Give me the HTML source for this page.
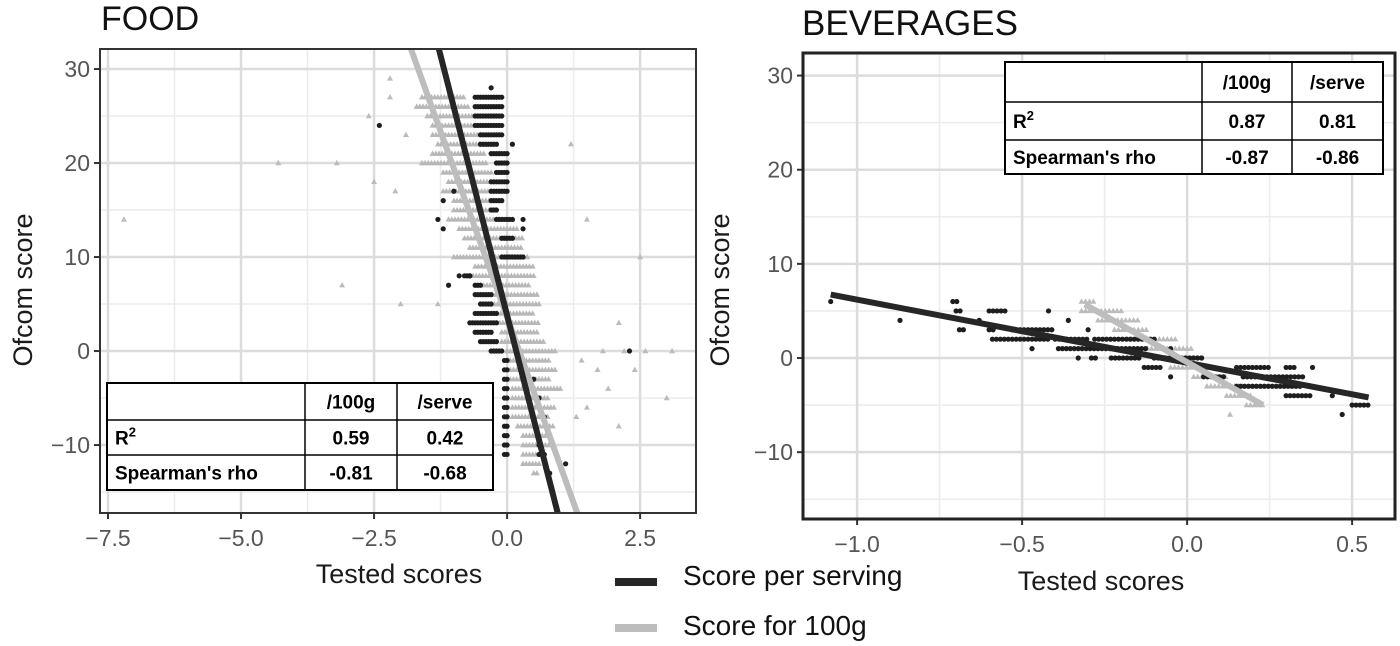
<!DOCTYPE html>
<html><head><meta charset="utf-8">
<style>
html,body{margin:0;background:#fff;overflow:hidden;width:1400px;height:646px;}
svg{display:block;font-family:"Liberation Sans",sans-serif;overflow:hidden;}
.tick{fill:#555;font-size:23px;}
.ttl{fill:#1a1a1a;font-size:27px;}
.tb{font-family:"Liberation Sans",sans-serif;font-weight:bold;font-size:19px;fill:#000;}
</style></head><body>
<svg id="chart" width="1400" height="646" viewBox="0 0 1400 646">
<text x="101" y="30" font-size="34" fill="#111">FOOD</text>
<text x="802" y="35" font-size="35" fill="#111">BEVERAGES</text>
<g id="food"></g>
<g id="bev"></g>
<text class="ttl" x="399" y="583" text-anchor="middle">Tested scores</text>
<text class="ttl" x="1101" y="590" text-anchor="middle">Tested scores</text>
<text class="ttl" transform="translate(32,290) rotate(-90)" text-anchor="middle">Ofcom score</text>
<text class="ttl" transform="translate(729,290) rotate(-90)" text-anchor="middle">Ofcom score</text>
<g>
<line x1="615" y1="582" x2="657" y2="582" stroke="#262626" stroke-width="8"/>
<text x="683" y="585" font-size="28" fill="#111">Score per serving</text>
<line x1="615" y1="628" x2="657" y2="628" stroke="#bdbdbd" stroke-width="8"/>
<text x="683" y="635" font-size="28" fill="#111">Score for 100g</text>
</g>
</svg>
<script>
const NS="http://www.w3.org/2000/svg";
// ---- FOOD data ----
const foodXTicks=[-7.5,-5.0,-2.5,0.0,2.5];
const foodYTicks=[30,20,10,0,-10];
const food100Rows=[[27,-1.6,-0.8],[26,-1.7,-0.7],[25,-1.5,-0.6],[24,-1.4,-0.6],[23,-1.4,-0.5],[22,-1.3,-0.5],[21,-1.4,-0.4],[20,-1.6,-0.4],[19,-1.2,-0.3],[18,-1.1,-0.3],[17,-1.2,-0.3],[16,-1.0,-0.1],[15,-1.0,-0.2],[14,-1.1,0.1],[13,-0.9,0.2],[12,-0.8,0.3],[11,-0.7,0.3],[10,-1.0,0.4],[9,-0.6,0.5],[8,-0.7,0.5],[7,-0.5,0.4],[6,-0.4,0.6],[5,-0.3,0.6],[4,-0.3,0.5],[3,-0.2,0.6],[2,-0.1,0.6],[1,-0.1,0.7],[0,0,0.9],[-1,0,0.8],[-2,0,0.9],[-3,0,0.8],[-4,0.1,1.0],[-5,0.1,0.8],[-6,0.1,0.9],[-7,0.1,0.8],[-8,0.2,0.9],[-9,0.3,0.8],[-10,0.3,0.8],[-11,0.3,0.7],[-12,0.3,0.6],[-13,0.5,0.6]];
const food100Out=[[-7.2,14],[-4.3,20],[-3.2,20],[-3.1,7],[-2.6,25],[-2.5,18],[-2.2,29],[-2.2,27],[-2.1,17],[-2.0,5],[-1.9,23],[-1.3,5],[1.2,22],[1.5,14],[2.5,10],[2.1,3],[1.8,0],[2.2,0],[2.6,0],[3.1,0],[1.4,-1],[1.7,-2],[2.4,-2],[1.9,-4],[3.0,-5],[1.5,-6],[2.1,-8],[1.3,-7]];
const foodServeRows=[[28,-0.3,-0.3],[27,-0.6,-0.1],[26,-0.6,-0.1],[25,-0.6,-0.1],[24,-0.6,-0.1],[23,-0.5,-0.1],[22,-0.5,-0.2],[21,-0.3,0],[20,-0.2,0],[19,-0.2,0],[18,-0.3,0],[17,-0.3,0],[16,-0.3,-0.1],[15,-0.3,-0.2],[14,-0.2,0.1],[12,-0.1,0.1],[10,-0.1,0.3],[8,-0.8,-0.7],[7,-0.6,-0.5],[6,-0.6,-0.3],[5,-0.5,-0.3],[4,-0.6,-0.2],[3,-0.7,-0.2],[2,-0.6,-0.3],[1,-0.5,-0.2],[0,-0.3,-0.1],[-1,-0.05,0],[-2,-0.05,0],[-3,-0.05,0],[-4,-0.05,0],[-5,-0.05,0],[-6,-0.05,0],[-7,-0.05,0],[-8,-0.05,0],[-9,-0.05,0],[-10,-0.05,0],[-11,-0.05,0]];
const foodServeOut=[[-2.4,24],[-1.3,24],[-1.0,17],[-1.2,16],[-1.3,14],[-1.2,13],[-0.9,8],[-1.1,7],[-0.7,8],[0.1,22],[0.3,14],[0.3,13],[2.3,0],[0.5,-3],[0.6,-5],[0.7,-7],[0.8,-9],[0.6,-10],[0.7,-11],[1.1,-12],[0.8,-13],[0.6,-11]];
const foodServeFit=[-22.1,3.8]; // slope, intercept
const food100Fit=[-15.8,3.6];
// ---- BEVERAGE data ----
const bevXTicks=[-1.0,-0.5,0.0,0.5];
const bevYTicks=[30,20,10,0,-10];
const bevServeRows=[[6,-1.08,-1.08],[6,-0.71,-0.69],[5,-0.7,-0.68],[5,-0.6,-0.55],[5,-0.42,-0.42],[4,-0.87,-0.87],[4,-0.63,-0.63],[4,-0.36,-0.36],[3,-0.69,-0.67],[3,-0.6,-0.58],[3,-0.53,-0.41],[3,-0.3,-0.3],[2,-0.59,-0.42],[2,-0.4,-0.3],[2,-0.28,-0.1],[1,-0.47,-0.47],[1,-0.39,-0.34],[1,-0.33,-0.12],[1,-0.05,-0.05],[0,-0.33,-0.33],[0,-0.29,-0.27],[0,-0.23,-0.14],[0,-0.1,0.05],[-1,-0.13,-0.08],[-1,0.05,0.05],[-1,0.15,0.25],[-1,0.3,0.33],[-1,0.38,0.38],[-2,-0.05,-0.05],[-2,0.05,0.12],[-2,0.17,0.35],[-3,0.15,0.35],[-4,0.3,0.38],[-4,0.44,0.44],[-5,0.5,0.55],[-6,0.47,0.47]];
const bev100Rows=[[6,-0.32,-0.28],[5,-0.32,-0.2],[4,-0.27,-0.15],[3,-0.22,-0.12],[2,-0.18,-0.03],[1,-0.12,0.02],[0,-0.08,0.05],[-1,-0.05,0.08],[-2,0.02,0.12],[-3,0.06,0.17],[-4,0.12,0.2],[-5,0.18,0.23],[-6,0.13,0.13]];
const bevServeFit=[-6.7,-0.5,-1.08,0.55]; // slope, intercept, xmin, xmax
const bev100Fit=[-19.8,-0.44,-0.31,0.23];

function el(tag,attrs,parent){const e=document.createElementNS(NS,tag);for(const k in attrs)e.setAttribute(k,attrs[k]);parent.appendChild(e);return e;}

function panel(g,P,xt,yt){
  const sx=v=>P.x0+(v-P.xd[0])/(P.xd[1]-P.xd[0])*(P.x1-P.x0);
  const sy=v=>P.y1-(v-P.yd[0])/(P.yd[1]-P.yd[0])*(P.y1-P.y0);
  el('rect',{x:P.x0,y:P.y0,width:P.x1-P.x0,height:P.y1-P.y0,fill:'#fff'},g);
  const step=xt[1]-xt[0];
  for(let i=-1;i<xt.length;i++){const v=xt[0]+(i+0.5)*step;if(v>P.xd[0]&&v<P.xd[1])el('line',{x1:sx(v),x2:sx(v),y1:P.y0,y2:P.y1,stroke:'#ececec','stroke-width':1.5},g);}
  for(let v=-15;v<=35;v+=10){if(v>P.yd[0]&&v<P.yd[1])el('line',{x1:P.x0,x2:P.x1,y1:sy(v),y2:sy(v),stroke:'#ececec','stroke-width':1.5},g);}
  xt.forEach(v=>{const l=el('line',{x1:sx(v),x2:sx(v),y1:P.y0,y2:P.y1,stroke:'#dcdcdc','stroke-width':2.5},g);
    
    el('line',{x1:sx(v),x2:sx(v),y1:P.y1,y2:P.y1+6,stroke:'#333','stroke-width':2},g);
    const t=el('text',{x:sx(v),y:P.y1+33,'text-anchor':'middle',class:'tick'},g);t.textContent=(v<0?'\u2212':'')+Math.abs(v).toFixed(1);
    });
  yt.forEach(v=>{const l=el('line',{x1:P.x0,x2:P.x1,y1:sy(v),y2:sy(v),stroke:'#dcdcdc','stroke-width':2.5},g);
    
    el('line',{x1:P.x0-6,x2:P.x0,y1:sy(v),y2:sy(v),stroke:'#333','stroke-width':2},g);
    const t=el('text',{x:P.x0-10,y:sy(v)+8,'text-anchor':'end',class:'tick'},g);t.textContent=(v<0?'\u2212':'')+Math.abs(v);
    });
  return [sx,sy];
}
function tri(g,x,y,c){const p=el('polygon',{points:`${x},${y-3.2} ${x-3},${y+2.2} ${x+3},${y+2.2}`,fill:c},g);
  }
function dot(g,x,y){const c=el('circle',{cx:x,cy:y,r:2.6,fill:'#1e1e1e'},g);
  }
function rows(g,R,sx,sy,step,f){R.forEach(r=>{for(let x=r[1];x<=r[2]+1e-9;x+=step)f(g,sx(x),sy(r[0]));});}
function clipRect(id,P){const d=el('defs',{},document.getElementById('chart'));const c=el('clipPath',{id:id},d);el('rect',{x:P.x0,y:P.y0,width:P.x1-P.x0,height:P.y1-P.y0},c);}
function fitLine(g,fit,x0,x1,sx,sy,c,name){const l=el('line',{x1:sx(x0),y1:sy(fit[0]*x0+fit[1]),x2:sx(x1),y2:sy(fit[0]*x1+fit[1]),stroke:c,'stroke-width':6},g);
  }

// FOOD panel
const FP={x0:100,x1:696,y0:49,y1:513,xd:[-7.65,3.55],yd:[-17.23,32.13]};
const fg=document.getElementById('food');
let [fx,fy]=panel(fg,FP,foodXTicks,foodYTicks);
clipRect('fc',FP);
const fm=el('g',{'clip-path':'url(#fc)'},fg);
rows(fm,food100Rows,fx,fy,0.06,(g,x,y)=>tri(g,x,y,'#b8b8b8'));
food100Out.forEach(p=>tri(fm,fx(p[0]),fy(p[1]),'#bcbcbc'));
rows(fm,foodServeRows,fx,fy,0.05,dot);
foodServeOut.forEach(p=>dot(fm,fx(p[0]),fy(p[1])));
fitLine(fm,food100Fit,-3,2,fx,fy,'#bdbdbd','fit-line-100g');
fitLine(fm,foodServeFit,-3,2,fx,fy,'#262626','fit-line-serving');
el('rect',{x:FP.x0,y:FP.y0,width:FP.x1-FP.x0,height:FP.y1-FP.y0,fill:'none',stroke:'#333','stroke-width':2},fg);

// BEV panel
const BP={x0:803,x1:1395,y0:53,y1:519,xd:[-1.164,0.63],yd:[-17.1,32.4]};
const bg=document.getElementById('bev');
let [bx,by]=panel(bg,BP,bevXTicks,bevYTicks);
rows(bg,bev100Rows,bx,by,0.012,(g,x,y)=>tri(g,x,y,'#bcbcbc'));
rows(bg,bevServeRows,bx,by,0.012,dot);
fitLine(bg,bevServeFit,bevServeFit[2],bevServeFit[3],bx,by,'#262626','fit-line-serving');
fitLine(bg,bev100Fit,bev100Fit[2],bev100Fit[3],bx,by,'#bdbdbd','fit-line-100g');
el('rect',{x:BP.x0,y:BP.y0,width:BP.x1-BP.x0,height:BP.y1-BP.y0,fill:'none',stroke:'#222','stroke-width':3},bg);

// tables
function table(x,y,cw,rh,vals,name){
  const g=el('g',{},document.getElementById('chart'));
  
  const W=cw.reduce((a,b)=>a+b,0),H=rh.reduce((a,b)=>a+b,0);
  el('rect',{x:x,y:y,width:W,height:H,fill:'#fff',stroke:'#000','stroke-width':2},g);
  let cx=x;cw.slice(0,-1).forEach(w=>{cx+=w;el('line',{x1:cx,x2:cx,y1:y,y2:y+H,stroke:'#000','stroke-width':1.5},g);});
  let cy=y;rh.slice(0,-1).forEach(h=>{cy+=h;el('line',{x1:x,x2:x+W,y1:cy,y2:cy,stroke:'#000','stroke-width':1.5},g);});
  cy=y;
  vals.forEach((row,ri)=>{cx=x;row.forEach((v,ci)=>{
    if(v!==''){const t=el('text',{class:'tb',x:ci==0?cx+8:cx+cw[ci]/2,y:cy+rh[ri]/2+7,'text-anchor':ci==0?'start':'middle'},g);
      if(v==='R2'){t.textContent='R';const s=el('tspan',{dy:-8,'font-size':13},t);s.textContent='2';}else t.textContent=v;}
    cx+=cw[ci];});cy+=rh[ri];});
}
table(107,383,[198,92,96],[37,35,35],[['','/100g','/serve'],['R2','0.59','0.42'],["Spearman's rho",'-0.81','-0.68']],'food-stats-table');
table(1005,62,[197,90,91],[40,38,34],[['','/100g','/serve'],['R2','0.87','0.81'],["Spearman's rho",'-0.87','-0.86']],'beverages-stats-table');
</script>
</body></html>
